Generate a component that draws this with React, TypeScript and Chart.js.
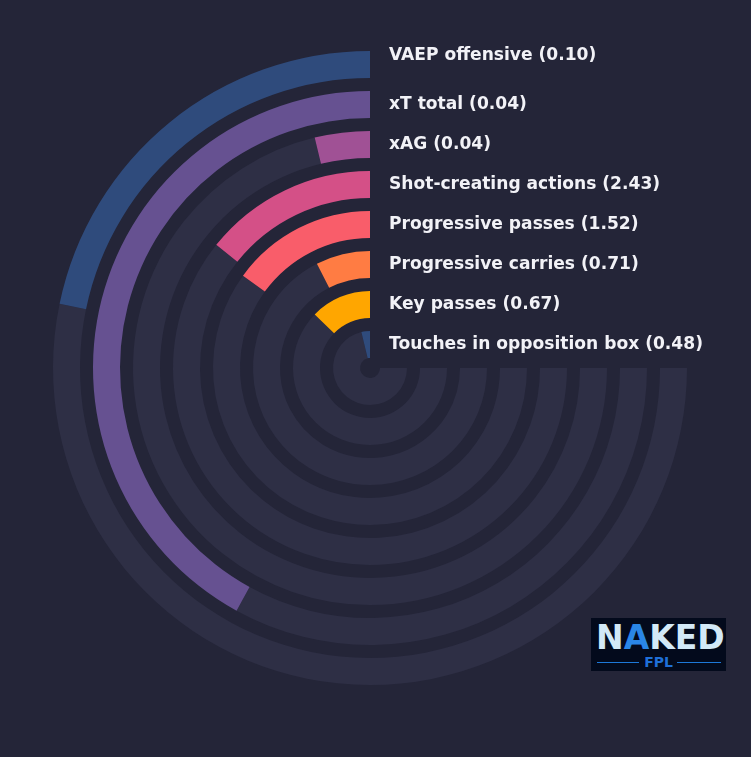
import { useEffect, useRef } from 'react';
import { Chart, ChartConfiguration, Plugin, registerables } from 'chart.js';

Chart.register(...registerables);

// metric names, raw values shown in labels, and percentile (bar length out of 100)
const metrics = [
  'VAEP offensive',
  'xT total',
  'xAG',
  'Shot-creating actions',
  'Progressive passes',
  'Progressive carries',
  'Key passes',
  'Touches in opposition box',
];
const rawValues = [0.1, 0.04, 0.04, 2.43, 1.52, 0.71, 0.67, 0.48];
const percentiles = [29, 56, 5, 19, 20, 10, 17, 5];
const barColors = ['#2f4b7c', '#665191', '#a05195', '#d45087', '#f95d6a', '#ff7c43', '#ffa600', '#2f4b7c'];

const BG = '#242538';
const TRACK = '#2e2f45';

// draws the metric labels to the right of each ring's start
const ringLabels: Plugin<'doughnut'> = {
  id: 'ringLabels',
  afterDatasetsDraw(chart) {
    const ctx = chart.ctx;
    ctx.save();
    ctx.font = 'bold 17.1px "DejaVu Sans", sans-serif';
    ctx.fillStyle = '#f2f2f7';
    ctx.textBaseline = 'middle';
    ctx.textAlign = 'left';
    metrics.forEach((name, i) => {
      const meta = chart.getDatasetMeta(i * 2);
      const arc = meta.data[1] as any;
      if (!arc) return;
      const { x, y, innerRadius, outerRadius } = arc.getProps(['x', 'y', 'innerRadius', 'outerRadius'], true);
      const mid = (innerRadius + outerRadius) / 2;
      const ty = y - mid - (i === 0 ? 9 : 0);
      ctx.fillText(`${name} (${rawValues[i].toFixed(2)})`, x + 19, ty);
    });
    ctx.restore();
  },
};

function RadialBars() {
  const canvasRef = useRef<HTMLCanvasElement>(null);
  const chartRef = useRef<Chart | null>(null);

  useEffect(() => {
    if (!canvasRef.current) return;

    const datasets: any[] = [];
    percentiles.forEach((p, i) => {
      datasets.push({
        data: [100 - p, p],
        backgroundColor: [TRACK, barColors[i]],
        borderWidth: 0,
        hoverBorderWidth: 0,
        weight: 27,
      });
      if (i < percentiles.length - 1) {
        datasets.push({
          data: [1],
          backgroundColor: ['rgba(0,0,0,0)'],
          borderWidth: 0,
          hoverBorderWidth: 0,
          weight: 13,
        });
      }
    });

    const config: ChartConfiguration<'doughnut'> = {
      type: 'doughnut',
      data: {
        labels: ['rest', 'value'],
        datasets,
      },
      options: {
        responsive: false,
        animation: false,
        events: [],
        rotation: 90,
        circumference: 270,
        cutout: 10,
        layout: {
          padding: { left: 53, top: 51, right: 64, bottom: 72 },
        },
        plugins: {
          legend: { display: false },
          tooltip: { enabled: false },
        },
      },
      plugins: [ringLabels],
    };

    chartRef.current = new Chart(canvasRef.current, config);

    return () => {
      chartRef.current?.destroy();
    };
  }, []);

  return <canvas ref={canvasRef} width={751} height={757} style={{ width: 751, height: 757, display: 'block' }} />;
}

function Logo() {
  return (
    <div
      style={{
        position: 'absolute',
        left: 591,
        top: 618,
        width: 135,
        height: 53,
        background: '#030a1c',
        fontFamily: '"DejaVu Sans", sans-serif',
        fontWeight: 'bold',
      }}
    >
      <div
        style={{
          position: 'absolute',
          left: 5,
          top: 0,
          width: 126,
          textAlign: 'center',
          fontSize: 33,
          lineHeight: '40px',
          color: '#d3e9f7',
        }}
      >
        N<span style={{ color: '#2a86e6' }}>A</span>KED
      </div>
      <div style={{ position: 'absolute', left: 6, top: 44, width: 42, height: 1, background: '#1d78d8' }} />
      <div style={{ position: 'absolute', left: 86, top: 44, width: 44, height: 1, background: '#1d78d8' }} />
      <div
        style={{
          position: 'absolute',
          left: 0,
          top: 36,
          width: 135,
          textAlign: 'center',
          fontSize: 14,
          lineHeight: '17px',
          color: '#1f6fd8',
        }}
      >
        FPL
      </div>
    </div>
  );
}

export default function App() {
  useEffect(() => {
    document.body.style.margin = '0';
    document.body.style.background = BG;
  }, []);

  return (
    <div style={{ position: 'relative', width: 751, height: 757, background: BG, overflow: 'hidden' }}>
      <RadialBars />
      <Logo />
    </div>
  );
}
